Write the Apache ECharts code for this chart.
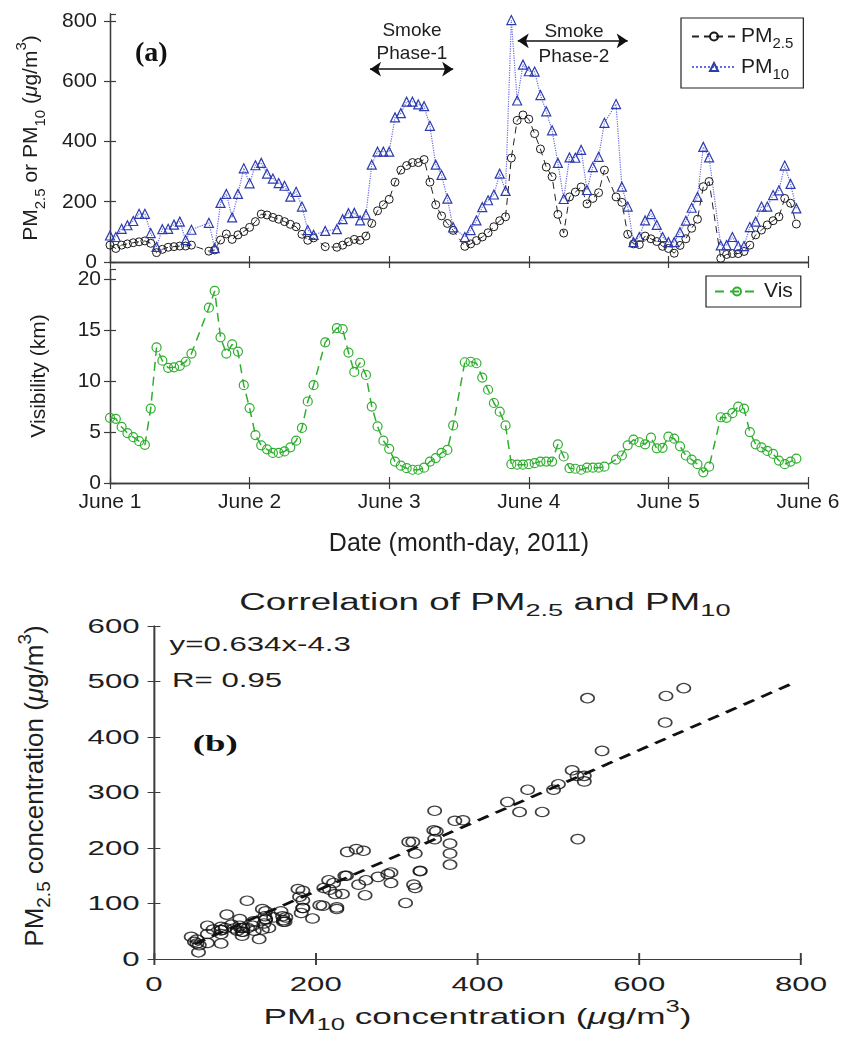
<!DOCTYPE html>
<html>
<head>
<meta charset="utf-8">
<title>PM and visibility, June 2011</title>
<script src="https://cdn.jsdelivr.net/npm/echarts@6/dist/echarts.min.js"></script>
<style>
  html, body { margin: 0; padding: 0; background: #fff; }
  #top { position: absolute; left: 0; top: 0; width: 846px; height: 560px; }
  /* panel (b) is drawn narrow and stretched sideways, like the source figure */
  #bottom { position: absolute; left: 0; top: 560px; width: 529px; height: 478px; transform: scaleX(1.6); transform-origin: 0 0; }
</style>
</head>
<body>
<div id="top"></div>
<div id="bottom"></div>
<script>
// hourly samples, hour 0 = June 1 00:00 (null = missing hour)
const dayLabels = ['June 1', 'June 2', 'June 3', 'June 4', 'June 5', 'June 6']
const pmTicks = [0, 200, 400, 600, 800]
const visTicks = [0, 5, 10, 15, 20]
const corrXTicks = [0, 200, 400, 600, 800]
const corrYTicks = [0, 100, 200, 300, 400, 500, 600]

const pm25 = [
  56, 45, 56, 60, 64, 67, 70, 62, 31, 42, 49, 51, 53, 53, 56, null, null, 36, 40, 73, 93, 75, 90, 101,
  115, 134, 159, 156, 148, 142, 134, 125, 117, 92, 72, 80, null, 51, null, 49, 56, 67, 75, 72, 86, 128, 170, 190,
  208, 265, 305, 320, 330, 330, 340, 265, 190, 153, 128, 105, null, 52, 60, 71, 83, 97, 117, 137, 150, 345, 470, 488,
  474, 426, 375, 315, 283, 158, 96, 216, 232, 249, 193, 211, 230, 305, null, 216, 198, 92, 60, 58, 86, 77, 68, 52,
  45, 29, 55, 77, 112, 142, 250, 267, null, 12, 25, 28, 28, 35, 56, 90, 106, 123, 137, 150, 211, 195, 126, null
]
const pm10 = [
  88, 83, 110, 122, 136, 160, 160, 96, 50, 109, 110, 124, 134, 73, 107, null, null, 130, 46, 196, 226, 148, 226, 311,
  261, 321, 329, 293, 277, 262, 253, 217, 233, 184, 106, 90, null, 103, null, 109, 142, 162, 163, 138, 157, 323, 366, 366,
  366, 480, 494, 532, 532, 523, 517, 452, 323, 289, 210, 115, null, 83, 106, 138, 182, 205, 224, 293, 236, 803, 536, 655,
  633, 632, 554, 500, 437, 329, 209, 347, 346, 372, 239, 315, 349, 462, null, 524, 250, 184, 66, 83, 138, 159, 123, 83,
  66, 66, 99, 137, 180, 216, 382, 347, null, 55, 56, 83, 53, 53, 116, 134, 184, 184, 222, 238, 320, 259, 178, null
]
const vis = [
  6.4, 6.3, 5.5, 4.9, 4.5, 4.1, 3.75, 7.3, 13.3, 12.0, 11.3, 11.35, 11.5, 11.9, 12.7, null, null, 17.2, 18.85, 14.3, 12.7, 13.6, 12.9, 9.6,
  7.35, 4.7, 3.7, 3.3, 2.95, 2.95, 3.1, 3.5, 4.15, 5.4, 8.0, 9.6, null, 13.8, null, 15.2, 15.1, 12.8, 10.9, 11.8, 10.6, 7.5, 5.55, 4.15,
  3.35, 2.1, 1.7, 1.45, 1.3, 1.3, 1.5, 2.1, 2.45, 2.95, 3.25, 5.65, null, 11.85, 11.9, 11.75, 10.35, 9.15, 7.85, 7.0, 5.65, 1.85, 1.8, 1.8,
  1.85, 1.95, 2.1, 2.1, 2.1, 3.8, 2.6, 1.45, 1.4, 1.3, 1.5, 1.5, 1.5, 1.6, null, 2.3, 2.7, 3.7, 4.25, 4.0, 3.8, 4.45, 3.4, 3.45,
  4.55, 4.35, 3.6, 2.7, 2.3, 1.85, 1.05, 1.6, null, 6.45, 6.4, 6.85, 7.5, 7.3, 5.0, 3.8, 3.5, 3.15, 2.85, 2.2, 1.85, 2.1, 2.4, null
]

// smoke phases: [start hour, end hour], arrow level in ug/m3
const phase1 = [44.7, 59]
const phase1Level = 640
const phase2 = [70.1, 89]
const phase2Level = 734

// fitted line y=0.634x-4.3, end points
const fitPm10 = [50, 790]
const fitPm25 = [27, 497]

const FONT = 'Liberation Sans'
const AXIS = '#3c3c3c'
const TEXT = '#1e1e1e'

const richText = (size, lh) => ({
  m: { fontSize: size, lineHeight: lh },
  i: { fontSize: size, lineHeight: lh, fontStyle: 'italic' },
  s: { fontSize: Math.round(size * 0.72), verticalAlign: 'bottom' },
  p: { fontSize: Math.round(size * 0.72), verticalAlign: 'top', lineHeight: Math.round(size * 1.1) }
})

const pairs = (ys) => ys.map((v, i) => [i, v])

const frameAxis = (extra) => ({
  axisLine: { show: true, lineStyle: { color: AXIS, width: 1.3 } },
  axisTick: { show: true, length: 6, lineStyle: { color: AXIS, width: 1.2 } },
  splitLine: { show: false },
  ...extra
})

const hourAxis = (gridIndex, position, showLabel) => frameAxis({
  type: 'value', gridIndex, position, min: 0, max: 120, interval: 24,
  axisLabel: {
    show: showLabel, fontSize: 21, fontFamily: FONT, color: TEXT, margin: 9,
    formatter: (v) => dayLabels[v / 24]
  }
})

const topOption = {
  animation: false,
  textStyle: { fontFamily: FONT, color: TEXT },
  grid: [
    { left: 110, top: 14, width: 698, height: 248 },
    { left: 110, top: 269, width: 698, height: 214 }
  ],
  xAxis: [
    hourAxis(0, 'bottom', false),
    hourAxis(0, 'top', false),
    {
      ...hourAxis(1, 'bottom', true),
      name: 'Date (month-day, 2011)', nameLocation: 'middle', nameGap: 49,
      nameTextStyle: { fontSize: 25, fontFamily: FONT, color: TEXT }
    },
    hourAxis(1, 'top', false)
  ],
  yAxis: [
    frameAxis({
      type: 'value', gridIndex: 0, min: 0, max: 823, interval: pmTicks[1] - pmTicks[0],
      axisLabel: { fontSize: 21, color: TEXT, margin: 13, showMaxLabel: false },
      name: '{m|PM}{s|2.5}{m| or PM}{s|10}{m| (}{i|μ}{m|g/m}{p|3}{m|)}',
      nameLocation: 'middle', nameGap: 62,
      nameTextStyle: { color: TEXT, rich: richText(21, 34) }
    }),
    frameAxis({ type: 'value', gridIndex: 0, position: 'right', min: 0, max: 823, interval: 200, axisLabel: { show: false } }),
    frameAxis({
      type: 'value', gridIndex: 1, min: 0, max: 21, interval: visTicks[1] - visTicks[0],
      axisLabel: { fontSize: 21, color: TEXT, margin: 9, showMaxLabel: false },
      name: 'Visibility (km)', nameLocation: 'middle', nameGap: 60,
      nameTextStyle: { fontSize: 21, color: TEXT }
    }),
    frameAxis({ type: 'value', gridIndex: 1, position: 'right', min: 0, max: 21, interval: 5, axisLabel: { show: false } })
  ],
  legend: [
    {
      data: ['PM2.5', 'PM10'],
      orient: 'vertical', left: 681, top: 18,
      itemWidth: 44, itemHeight: 10, itemGap: 5,
      padding: [8, 10, 6, 10],
      borderColor: '#222', borderWidth: 1.2,
      formatter: (n) => n === 'PM2.5' ? '{m|PM}{s|2.5}' : '{m|PM}{s|10}',
      textStyle: { color: TEXT, rich: richText(21, 30) }
    },
    {
      data: ['Vis'],
      orient: 'vertical', left: 706, top: 276,
      itemWidth: 44, itemHeight: 10,
      padding: [5, 8, 5, 8],
      borderColor: '#222', borderWidth: 1.2,
      textStyle: { fontSize: 21, color: TEXT }
    }
  ],
  series: [
    {
      name: 'PM2.5', type: 'line', xAxisIndex: 0, yAxisIndex: 0,
      data: pairs(pm25), connectNulls: true,
      symbol: 'circle', symbolSize: 8,
      itemStyle: { color: 'rgba(0,0,0,0)', borderColor: '#1a1a1a', borderWidth: 1 },
      lineStyle: { color: '#222', width: 1, type: [7, 5] },
      markLine: {
        silent: true, symbol: ['arrow', 'arrow'], symbolSize: 11,
        lineStyle: { color: '#111', type: 'solid', width: 1.5 },
        label: { show: false },
        data: [
          [{ coord: [phase1[0], phase1Level] }, { coord: [phase1[1], phase1Level] }],
          [{ coord: [phase2[0], phase2Level] }, { coord: [phase2[1], phase2Level] }]
        ]
      }
    },
    {
      name: 'PM10', type: 'line', xAxisIndex: 0, yAxisIndex: 0,
      data: pairs(pm10), connectNulls: true,
      symbol: 'triangle', symbolSize: 9,
      itemStyle: { color: 'rgba(0,0,0,0)', borderColor: '#2c3cb0', borderWidth: 1.2 },
      lineStyle: { color: '#6a6ae0', width: 1.2, type: 'dotted' }
    },
    {
      name: 'Vis', type: 'line', xAxisIndex: 2, yAxisIndex: 2,
      data: pairs(vis), connectNulls: true,
      symbol: 'circle', symbolSize: 9,
      itemStyle: { color: 'rgba(0,0,0,0)', borderColor: '#2fae2f', borderWidth: 1.2 },
      lineStyle: { color: '#2fae2f', width: 1.5, type: [9, 6] }
    }
  ],
  graphic: [
    { type: 'text', left: 135, top: 40, style: { text: '(a)', fontSize: 28, fontWeight: 'bold', fontFamily: 'Liberation Serif', fill: '#111' } },
    { type: 'text', x: 412, y: 19, style: { text: 'Smoke\nPhase-1', align: 'center', fontSize: 19, lineHeight: 23, fontFamily: FONT, fill: TEXT } },
    { type: 'text', x: 574, y: 19, style: { text: 'Smoke\nPhase-2', align: 'center', fontSize: 19, lineHeight: 25, fontFamily: FONT, fill: TEXT } }
  ]
}

const corrPairs = pm10
  .map((v, i) => [v, pm25[i]])
  .filter((p) => p[0] !== null && p[1] !== null)

const innerAxis = (extra) => ({
  axisLine: { show: true, lineStyle: { color: AXIS, width: 1.2 } },
  axisTick: { show: true, inside: true, length: 6, lineStyle: { color: AXIS, width: 1.2 } },
  splitLine: { show: false },
  ...extra
})

const bottomOption = {
  animation: false,
  textStyle: { fontFamily: FONT, color: TEXT },
  title: {
    text: '{m|Correlation of PM}{s|2.5}{m| and PM}{s|10}',
    left: 298, top: 20, textAlign: 'center',
    textStyle: { fontWeight: 'normal', color: TEXT, rich: richText(23, 34) }
  },
  grid: { left: 96.25, top: 66, width: 404.4, height: 333 },
  xAxis: [
    innerAxis({
      type: 'value', min: 0, max: 800, interval: corrXTicks[1] - corrXTicks[0],
      axisLabel: { fontSize: 19.5, color: TEXT, margin: 15 },
      name: '{m|PM}{s|10}{m| concentration (}{i|μ}{m|g/m}{p|3}{m|)}',
      nameLocation: 'middle', nameGap: 38,
      nameTextStyle: { color: TEXT, rich: richText(22, 34) }
    }),
    innerAxis({ type: 'value', position: 'top', min: 0, max: 800, interval: 200, axisLabel: { show: false } })
  ],
  yAxis: [
    innerAxis({
      type: 'value', min: 0, max: 600, interval: corrYTicks[1] - corrYTicks[0],
      axisTick: { show: true, inside: true, length: 4, lineStyle: { color: AXIS, width: 1 } },
      axisLine: { show: true, lineStyle: { color: AXIS, width: 1 } },
      axisLabel: { fontSize: 19.5, color: TEXT, margin: 9 }
    }),
    innerAxis({
      type: 'value', position: 'right', min: 0, max: 600, interval: 100,
      axisTick: { show: true, inside: true, length: 4, lineStyle: { color: AXIS, width: 1 } },
      axisLine: { show: true, lineStyle: { color: AXIS, width: 1 } },
      axisLabel: { show: false }
    })
  ],
  series: [
    {
      type: 'scatter', data: corrPairs,
      symbol: 'circle', symbolSize: [8.3, 9.3],
      itemStyle: { color: 'rgba(0,0,0,0)', borderColor: '#111', borderWidth: 1.1 }
    },
    {
      type: 'line', data: fitPm10.map((x, i) => [x, fitPm25[i]]),
      symbol: 'none',
      lineStyle: { color: '#111', width: 2.5, type: [8, 5.5] }
    }
  ],
  graphic: [
    { type: 'text', left: 106, top: 74, style: { text: 'y=0.634x-4.3', fontSize: 19.5, fontFamily: FONT, fill: TEXT } },
    { type: 'text', left: 107.5, top: 110, style: { text: 'R= 0.95', fontSize: 19.5, fontFamily: FONT, fill: TEXT } },
    { type: 'text', left: 120.5, top: 172, style: { text: '(b)', fontSize: 23, fontWeight: 'bold', fontFamily: 'Liberation Serif', fill: '#111' } },
    {
      // rotated axis title, squeezed so the sideways stretch leaves it at normal width
      type: 'text', x: 21, y: 226, rotation: Math.PI / 2, scaleY: 1 / 1.6,
      style: {
        text: '{m|PM}{s|2.5}{m| concentration (}{i|μ}{m|g/m}{p|3}{m|)}',
        align: 'center', verticalAlign: 'middle', fontFamily: FONT, fill: TEXT,
        rich: richText(26, 38)
      }
    }
  ]
}

const topChart = echarts.init(document.getElementById('top'))
topChart.setOption(topOption)

const bottomChart = echarts.init(document.getElementById('bottom'), null, { renderer: 'svg' })
bottomChart.setOption(bottomOption)
</script>
</body>
</html>
